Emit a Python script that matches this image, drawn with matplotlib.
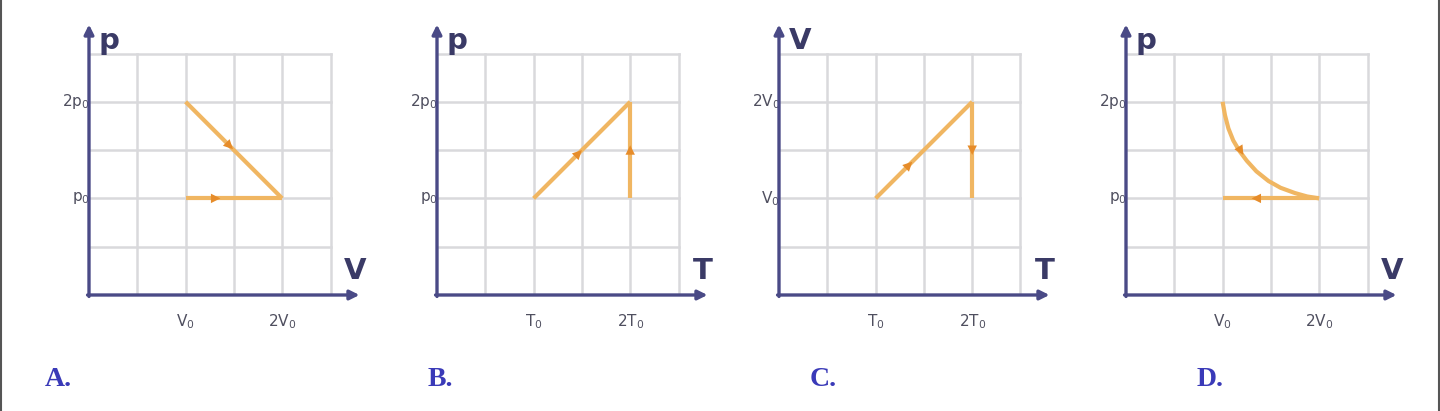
import matplotlib.pyplot as plt
from matplotlib.lines import Line2D

# panel letters, axis names and tick names
letters = ['A.', 'B.', 'C.', 'D.']
y_names = ['p', 'p', 'V', 'p']
x_names = ['V', 'T', 'T', 'V']
y_ticks = [['p$_0$', '2p$_0$'], ['p$_0$', '2p$_0$'], ['V$_0$', '2V$_0$'], ['p$_0$', '2p$_0$']]
x_ticks = [['V$_0$', '2V$_0$'], ['T$_0$', '2T$_0$'], ['T$_0$', '2T$_0$'], ['V$_0$', '2V$_0$']]
tick_pos = [2, 4]

# process paths (in grid units, x0 = 2, 2*x0 = 4)
paths = [
    [([2, 4], [4, 2]), ([2, 4], [2, 2])],
    [([2, 4], [2, 4]), ([4, 4], [2, 4])],
    [([2, 4], [2, 4]), ([4, 4], [2, 4])],
    [([2.0, 2.05, 2.12, 2.22, 2.35, 2.5, 2.7, 2.95, 3.2, 3.5, 3.75, 4.0],
      [4.0, 3.72, 3.45, 3.2, 2.98, 2.78, 2.56, 2.36, 2.22, 2.11, 2.04, 2.0]),
     ([2, 4], [2, 2])],
]
# direction markers: (tail, head)
arrows = [
    [((2.8, 3.2), (2.98, 3.02)), ((2.5, 2), (2.72, 2))],
    [((2.82, 2.82), (3.0, 3.0)), ((4, 2.88), (4, 3.1))],
    [((2.58, 2.58), (2.76, 2.76)), ((4, 3.12), (4, 2.9))],
    [((2.32, 3.08), (2.43, 2.9)), ((2.82, 2), (2.6, 2))],
]

origins = [89, 437, 779, 1126]
letter_x = [45, 428, 810, 1197]

W, H = 1440, 411
unit = 48.3
lim = 5.6
y0 = 295

axis_col = '#4a4a86'
grid_col = '#d9d9dc'
line_col = '#f0b662'
head_col = '#e68c2a'
text_col = '#4f4f5f'
letter_col = '#3a3ab8'

fig = plt.figure(figsize=(14.4, 4.11), dpi=100)

for i, ox in enumerate(origins):
    ax = fig.add_axes([ox / W, (H - y0) / H, lim * unit / W, lim * unit / H])
    ax.set_xlim(0, lim)
    ax.set_ylim(0, lim)
    ax.axis('off')

    for k in range(1, 6):
        ax.plot([k, k], [0, 5], color=grid_col, lw=1.8, zorder=1)
        ax.plot([0, 5], [k, k], color=grid_col, lw=1.8, zorder=1)

    for xs, ys in paths[i]:
        ax.plot(xs, ys, color=line_col, lw=3, solid_capstyle='butt', zorder=3)
    for tail, head in arrows[i]:
        ax.annotate('', xy=head, xytext=tail,
                    arrowprops=dict(arrowstyle='-|>', color=head_col, lw=0,
                                    mutation_scale=17, shrinkA=0, shrinkB=0),
                    zorder=4)

    # axes with arrows
    ax.annotate('', xy=(lim, 0), xytext=(-0.03, 0),
                arrowprops=dict(arrowstyle='-|>', color=axis_col, lw=2.4,
                                mutation_scale=14, shrinkA=0, shrinkB=0),
                annotation_clip=False, zorder=5)
    ax.annotate('', xy=(0, lim), xytext=(0, -0.03),
                arrowprops=dict(arrowstyle='-|>', color=axis_col, lw=2.4,
                                mutation_scale=14, shrinkA=0, shrinkB=0),
                annotation_clip=False, zorder=5)

    ax.text(0.2, lim - 0.05, y_names[i], fontsize=21, color='#3a3a66',
            weight='bold', ha='left', va='top', clip_on=False)
    ax.text(lim - 0.1, 0.2, x_names[i], fontsize=21, color='#3a3a66',
            weight='bold', ha='center', va='bottom', clip_on=False)

    for pos, lab in zip(tick_pos, y_ticks[i]):
        ax.text(0.02, pos, lab, fontsize=11, color=text_col,
                ha='right', va='center', clip_on=False)
    for pos, lab in zip(tick_pos, x_ticks[i]):
        ax.text(pos, -0.35, lab, fontsize=11, color=text_col,
                ha='center', va='top', clip_on=False)

    fig.text(letter_x[i] / W, 1 - 379 / H, letters[i], fontsize=20,
             family='Liberation Serif', weight='bold', color=letter_col,
             ha='left', va='center')

# thin frame lines on the image sides
fig.add_artist(Line2D([0.0007, 0.0007], [0, 1], color='#555555', lw=1.5))
fig.add_artist(Line2D([0.9993, 0.9993], [0, 1], color='#555555', lw=1.5))

fig.savefig('out.png', dpi=100, facecolor='white')
